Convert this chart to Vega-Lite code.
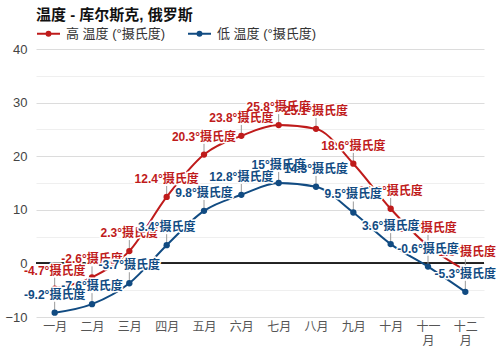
{
  "$schema": "https://vega.github.io/schema/vega-lite/v6.json",
  "width": 448,
  "height": 268,
  "autosize": {"type": "none"},
  "padding": {"left": 36, "top": 49, "right": 16, "bottom": 33},
  "config": {
    "font": "Liberation Sans, Noto Sans CJK SC, sans-serif",
    "view": {"stroke": null},
    "background": "white"
  },
  "title": {
    "text": "温度 - 库尔斯克, 俄罗斯",
    "anchor": "start",
    "frame": "group",
    "fontSize": 15,
    "fontWeight": "bold",
    "color": "#111",
    "offset": -2,
    "font": "Liberation Sans, Noto Sans CJK SC, sans-serif"
  },
  "data": {
    "values": [
      {"m": "一月", "s": "高 温度 (°摄氏度)", "v": -4.7, "t": "-4.7°摄氏度"},
      {"m": "二月", "s": "高 温度 (°摄氏度)", "v": -2.6, "t": "-2.6°摄氏度"},
      {"m": "三月", "s": "高 温度 (°摄氏度)", "v": 2.3, "t": "2.3°摄氏度"},
      {"m": "四月", "s": "高 温度 (°摄氏度)", "v": 12.4, "t": "12.4°摄氏度"},
      {"m": "五月", "s": "高 温度 (°摄氏度)", "v": 20.3, "t": "20.3°摄氏度"},
      {"m": "六月", "s": "高 温度 (°摄氏度)", "v": 23.8, "t": "23.8°摄氏度"},
      {"m": "七月", "s": "高 温度 (°摄氏度)", "v": 25.8, "t": "25.8°摄氏度"},
      {"m": "八月", "s": "高 温度 (°摄氏度)", "v": 25.1, "t": "25.1°摄氏度"},
      {"m": "九月", "s": "高 温度 (°摄氏度)", "v": 18.6, "t": "18.6°摄氏度"},
      {"m": "十月", "s": "高 温度 (°摄氏度)", "v": 10.2, "t": "10.2°摄氏度"},
      {"m": "十一月", "s": "高 温度 (°摄氏度)", "v": 3.3, "t": "3.3°摄氏度"},
      {"m": "十二月", "s": "高 温度 (°摄氏度)", "v": -1.3, "t": "-1.3°摄氏度"},
      {"m": "一月", "s": "低 温度 (°摄氏度)", "v": -9.2, "t": "-9.2°摄氏度"},
      {"m": "二月", "s": "低 温度 (°摄氏度)", "v": -7.6, "t": "-7.6°摄氏度"},
      {"m": "三月", "s": "低 温度 (°摄氏度)", "v": -3.7, "t": "-3.7°摄氏度"},
      {"m": "四月", "s": "低 温度 (°摄氏度)", "v": 3.4, "t": "3.4°摄氏度"},
      {"m": "五月", "s": "低 温度 (°摄氏度)", "v": 9.8, "t": "9.8°摄氏度"},
      {"m": "六月", "s": "低 温度 (°摄氏度)", "v": 12.8, "t": "12.8°摄氏度"},
      {"m": "七月", "s": "低 温度 (°摄氏度)", "v": 15, "t": "15°摄氏度"},
      {"m": "八月", "s": "低 温度 (°摄氏度)", "v": 14.3, "t": "14.3°摄氏度"},
      {"m": "九月", "s": "低 温度 (°摄氏度)", "v": 9.5, "t": "9.5°摄氏度"},
      {"m": "十月", "s": "低 温度 (°摄氏度)", "v": 3.6, "t": "3.6°摄氏度"},
      {"m": "十一月", "s": "低 温度 (°摄氏度)", "v": -0.6, "t": "-0.6°摄氏度"},
      {"m": "十二月", "s": "低 温度 (°摄氏度)", "v": -5.3, "t": "-5.3°摄氏度"}
    ]
  },
  "encoding": {
    "x": {
      "field": "m",
      "type": "ordinal",
      "sort": ["一月", "二月", "三月", "四月", "五月", "六月", "七月", "八月", "九月", "十月", "十一月", "十二月"],
      "scale": {"type": "point", "padding": 0.5},
      "axis": {
        "title": null,
        "domain": false,
        "ticks": false,
        "grid": false,
        "labelPadding": 4,
        "labelFontSize": 12,
        "labelColor": "#555",
        "labelAngle": 0,
        "labelExpr": "datum.label == '十一月' ? ['十一','月'] : datum.label == '十二月' ? ['十二','月'] : datum.label"
      }
    },
    "y": {
      "field": "v",
      "type": "quantitative",
      "scale": {"domain": [-10, 40], "nice": false, "zero": false},
      "axis": {
        "title": null,
        "domain": false,
        "ticks": false,
        "values": [-10, -5, 0, 5, 10, 15, 20, 25, 30, 35, 40],
        "labelExpr": "datum.value % 10 === 0 ? datum.label : ''",
        "labelPadding": 9,
        "labelFontSize": 13,
        "labelColor": "#444",
        "gridColor": {"condition": {"test": "datum.value % 10 === 0", "value": "#dcdcdc"}, "value": "#efefef"},
        "gridWidth": 1
      }
    }
  },
  "layer": [
    {
      "mark": {"type": "rule", "color": "#222", "strokeWidth": 1},
      "encoding": {"y": {"datum": 0}, "x": null}
    },
    {
      "mark": {"type": "rule", "color": "#9a9a9a", "strokeWidth": 1, "y2Offset": -11},
      "encoding": {"y2": {"field": "v"}}
    },
    {
      "mark": {"type": "line", "interpolate": "monotone", "strokeWidth": 2, "point": {"size": 40, "filled": true}},
      "encoding": {
        "color": {
          "field": "s",
          "type": "nominal",
          "sort": ["高 温度 (°摄氏度)", "低 温度 (°摄氏度)"],
          "scale": {"domain": ["高 温度 (°摄氏度)", "低 温度 (°摄氏度)"], "range": ["#bf1b1b", "#114b82"]},
          "legend": {
            "title": null,
            "orient": "none",
            "direction": "horizontal",
            "legendX": 0,
            "legendY": -28,
            "symbolType": "M-1,0H1M-0.17,0a0.17,0.17 0 1,0 0.34,0a0.17,0.17 0 1,0 -0.34,0M-0.07,0a0.07,0.07 0 1,0 0.14,0a0.07,0.07 0 1,0 -0.14,0",
            "symbolSize": 529,
            "symbolStrokeWidth": 2,
            "labelFontSize": 13,
            "labelColor": "#333",
            "labelOffset": 5,
            "columnPadding": 18
          }
        }
      }
    },
    {
      "transform": [{"filter": "datum.s == '高 温度 (°摄氏度)'"}],
      "mark": {"type": "text", "dy": -18, "fontSize": 12, "fontWeight": "bold", "color": "white", "stroke": "white", "strokeWidth": 3, "strokeJoin": "round"},
      "encoding": {"text": {"field": "t"}}
    },
    {
      "transform": [{"filter": "datum.s == '高 温度 (°摄氏度)'"}],
      "mark": {"type": "text", "dy": -18, "fontSize": 12, "fontWeight": "bold", "color": "#bf1b1b"},
      "encoding": {"text": {"field": "t"}}
    },
    {
      "transform": [{"filter": "datum.s == '低 温度 (°摄氏度)'"}],
      "mark": {"type": "text", "dy": -18, "fontSize": 12, "fontWeight": "bold", "color": "white", "stroke": "white", "strokeWidth": 3, "strokeJoin": "round"},
      "encoding": {"text": {"field": "t"}}
    },
    {
      "transform": [{"filter": "datum.s == '低 温度 (°摄氏度)'"}],
      "mark": {"type": "text", "dy": -18, "fontSize": 12, "fontWeight": "bold", "color": "#114b82"},
      "encoding": {"text": {"field": "t"}}
    }
  ]
}
